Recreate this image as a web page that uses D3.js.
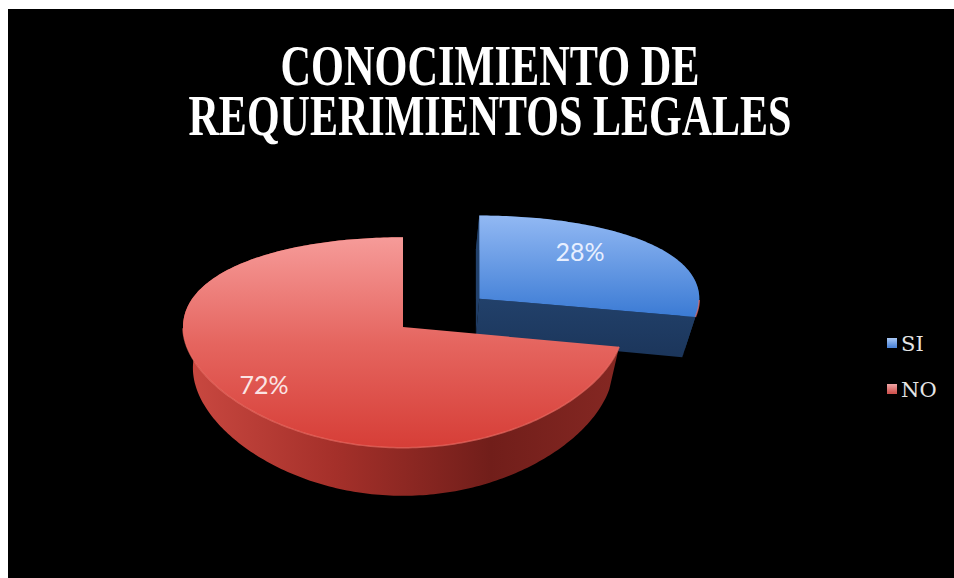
<!DOCTYPE html>
<html>
<head>
<meta charset="utf-8">
<script src="https://cdn.jsdelivr.net/npm/d3@7.9.0/dist/d3.min.js"></script>
<style>
  body { margin: 0; background: #fff; }
  svg { display: block; }
</style>
</head>
<body>
<svg width="954" height="578"></svg>
<script>
// chart data
const titleLines = ['CONOCIMIENTO DE', 'REQUERIMIENTOS LEGALES'];
const categories = ['SI', 'NO'];
const values = [28, 72];
const explode = [0.45, 0];

const svg = d3.select('svg');
svg.append('rect').attr('x', 8).attr('y', 9).attr('width', 946).attr('height', 569).attr('fill', '#000');

// gradients
const defs = svg.append('defs');
function grad(id, x1, y1, x2, y2, stops) {
  const g = defs.append('linearGradient').attr('id', id)
    .attr('gradientUnits', 'userSpaceOnUse')
    .attr('x1', x1).attr('y1', y1).attr('x2', x2).attr('y2', y2);
  stops.forEach(([o, c]) => g.append('stop').attr('offset', o).attr('stop-color', c));
}
grad('redTop', 0, 237, 0, 450, [[0, '#f69b99'], [0.5, '#e5655f'], [1, '#d63d36']]);
grad('redSide', 177, 0, 625, 0, [[0, '#cc4a42'], [0.35, '#a5302a'], [0.7, '#711e1a'], [1, '#862823']]);
grad('blueTop', 0, 213, 0, 318, [[0, '#94baf4'], [1, '#3a7ad4']]);
grad('blueSide', 0, 296, 0, 360, [[0, '#22416b'], [1, '#1b355a']]);
grad('legBlue', 0, 338, 0, 347, [[0, '#a9c8f5'], [1, '#4d85d8']]);
grad('legRed', 0, 384, 0, 393, [[0, '#f0a5a5'], [1, '#cf5450']]);

const colors = { top: ['url(#blueTop)', 'url(#redTop)'], side: ['#1d3a61', 'url(#redSide)'], cut: ['url(#blueSide)', '#8a2a25'] };

// simple perspective projection of a tilted disc, seen from above
const cx = 403, cy = 327, Rx = 220, Ry = 103, persp = 0.147, depth = 41, shrink = 0.045;
function project(u, v, d) {
  const s = 1 / (1 - persp * v);
  const k = 1 - shrink * d / depth;
  return [cx + Rx * u * k, cy + (Ry * v + d) * s];
}
function rimPoint(a, off, d) {
  return project(Math.sin(a) + off[0], -Math.cos(a) + off[1], d);
}
function arcAngles(a0, a1) {
  const n = Math.max(2, Math.ceil((a1 - a0) / (Math.PI / 180)));
  return d3.range(n + 1).map(i => a0 + (a1 - a0) * i / n);
}

const line = d3.line();
const pie = d3.pie().sort(null).value(d => d);
const arcs = pie(values);

// far slice first (SI), then NO in front
arcs.forEach((arc, i) => {
  const mid = (arc.startAngle + arc.endAngle) / 2;
  const off = [Math.sin(mid) * explode[i], -Math.cos(mid) * explode[i]];
  const angles = arcAngles(arc.startAngle, arc.endAngle);
  const apexTop = project(off[0], off[1], 0);
  const apexBot = project(off[0], off[1], depth);
  const g = svg.append('g');

  // outer side
  const sidePts = angles.map(a => rimPoint(a, off, 0))
    .concat(angles.slice().reverse().map(a => rimPoint(a, off, depth)));
  g.append('path').attr('d', line(sidePts) + 'Z').attr('fill', colors.side[i]);

  // cut faces of the pulled-out slice
  if (explode[i] > 0) {
    [arc.startAngle, arc.endAngle].forEach(a => {
      const pts = [apexTop, rimPoint(a, off, 0), rimPoint(a, off, depth), apexBot];
      g.append('path').attr('d', line(pts) + 'Z').attr('fill', colors.cut[i]);
    });
  }

  // top face
  const topPts = [apexTop].concat(angles.map(a => rimPoint(a, off, 0)));
  g.append('path').attr('d', line(topPts) + 'Z').attr('fill', colors.top[i]);

  // soft highlight on the front rim
  const front = angles.filter(a => a > Math.PI / 2 && a < Math.PI * 1.5);
  if (front.length > 1) {
    g.append('path').attr('d', line(front.map(a => rimPoint(a, off, 0))))
      .attr('fill', 'none').attr('stroke', '#ee6c64').attr('stroke-width', 1.5).attr('opacity', 0.7);
  }
});

// percentage labels
const labelR = [0.7, 0.82];
const labelNudge = [[-18, -7], [0, 0]];
arcs.forEach((arc, i) => {
  const mid = (arc.startAngle + arc.endAngle) / 2;
  const off = [Math.sin(mid) * explode[i], -Math.cos(mid) * explode[i]];
  const [x, y] = project(Math.sin(mid) * labelR[i] + off[0], -Math.cos(mid) * labelR[i] + off[1], 0);
  svg.append('text')
    .attr('x', x + labelNudge[i][0]).attr('y', y + labelNudge[i][1] + 9)
    .attr('text-anchor', 'middle')
    .attr('font-family', 'Lato, "Open Sans", sans-serif')
    .attr('font-size', 25)
    .attr('fill', i === 0 ? '#e8efff' : '#fbe4e4')
    .text(Math.round(arc.value / d3.sum(values) * 100) + '%');
});

// title
const titleWidths = [419, 603];
titleLines.forEach((t, i) => {
  svg.append('text')
    .attr('x', 490).attr('y', 85 + i * 50)
    .attr('text-anchor', 'middle')
    .attr('font-family', '"Liberation Serif", serif')
    .attr('font-weight', 'bold')
    .attr('font-size', 57)
    .attr('textLength', titleWidths[i])
    .attr('lengthAdjust', 'spacingAndGlyphs')
    .attr('fill', '#fff')
    .text(t);
});

// legend
const legY = d3.scalePoint().domain(categories).range([343, 389]);
categories.forEach((c, i) => {
  svg.append('rect')
    .attr('x', 887).attr('y', legY(c) - 5).attr('width', 10).attr('height', 10)
    .attr('fill', i === 0 ? 'url(#legBlue)' : 'url(#legRed)');
  svg.append('text')
    .attr('x', 901).attr('y', legY(c) + 8)
    .attr('font-family', '"DejaVu Serif", serif')
    .attr('font-size', 21)
    .attr('fill', '#e6e6e6')
    .text(c);
});
</script>
</body>
</html>
